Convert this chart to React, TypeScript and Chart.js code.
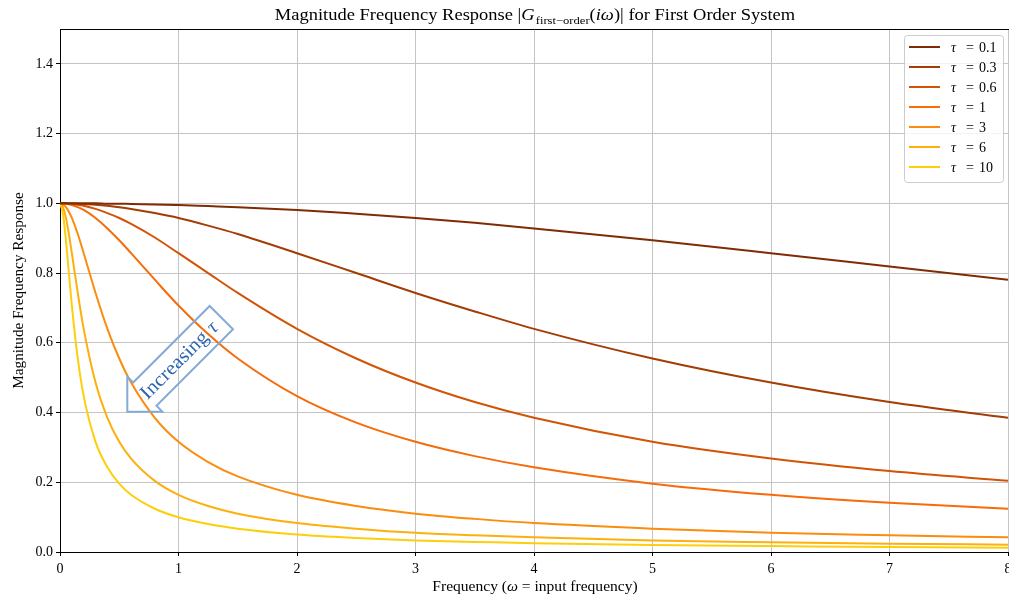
import React, { useEffect, useRef } from 'react';
import { Chart, registerables } from 'chart.js';

Chart.register(...registerables);

// ---------- data ----------
const omega = [0, 0.025, 0.05, 0.075, 0.1, 0.15, 0.2, 0.3, 0.4, 0.5, 0.6, 0.8, 1, 1.25, 1.5, 2, 2.5, 3, 3.5, 4, 5, 6, 7, 8];

const tauLabels = ['0.1', '0.3', '0.6', '1', '3', '6', '10'];

const magTau01 = [1, 1, 1, 1, 1, 1, 1, 1, 0.999, 0.999, 0.998, 0.997, 0.995, 0.992, 0.989, 0.981, 0.970, 0.958, 0.944, 0.928, 0.894, 0.857, 0.819, 0.781];
const magTau03 = [1, 1, 1, 0.9997, 0.9996, 0.999, 0.998, 0.996, 0.993, 0.989, 0.984, 0.972, 0.958, 0.936, 0.912, 0.857, 0.8, 0.743, 0.690, 0.640, 0.555, 0.486, 0.430, 0.385];
const magTau06 = [1, 0.9999, 0.9996, 0.999, 0.998, 0.996, 0.993, 0.984, 0.972, 0.958, 0.941, 0.902, 0.857, 0.8, 0.743, 0.640, 0.555, 0.486, 0.430, 0.385, 0.316, 0.268, 0.232, 0.204];
const magTau1 = [1, 0.9997, 0.999, 0.997, 0.995, 0.989, 0.981, 0.958, 0.928, 0.894, 0.857, 0.781, 0.707, 0.625, 0.555, 0.447, 0.371, 0.316, 0.275, 0.243, 0.196, 0.164, 0.141, 0.124];
const magTau3 = [1, 0.997, 0.989, 0.976, 0.958, 0.912, 0.857, 0.743, 0.640, 0.555, 0.486, 0.385, 0.316, 0.258, 0.217, 0.164, 0.132, 0.110, 0.095, 0.083, 0.067, 0.055, 0.048, 0.042];
const magTau6 = [1, 0.989, 0.958, 0.912, 0.857, 0.743, 0.640, 0.486, 0.385, 0.316, 0.268, 0.204, 0.164, 0.132, 0.110, 0.083, 0.067, 0.055, 0.048, 0.042, 0.033, 0.028, 0.024, 0.021];
const magTau10 = [1, 0.970, 0.894, 0.8, 0.707, 0.555, 0.447, 0.316, 0.243, 0.196, 0.164, 0.124, 0.0995, 0.080, 0.067, 0.050, 0.040, 0.033, 0.029, 0.025, 0.020, 0.017, 0.014, 0.0125];

const seriesValues = [magTau01, magTau03, magTau06, magTau1, magTau3, magTau6, magTau10];
const seriesColors = ['#7f2c04', '#a33d03', '#d35306', '#f76b0a', '#fb8c0d', '#fdb00c', '#fdcf0a'];

const xTicks = [0, 1, 2, 3, 4, 5, 6, 7, 8];
const yTicks = [0, 0.2, 0.4, 0.6, 0.8, 1.0, 1.2, 1.4];

// annotation arrow tip (data coords)
const arrowTip = [0.568, 0.4025];

const SERIF = '"Liberation Serif", "DejaVu Serif", serif';

type Piece = { t: string; font: string; dy?: number; dx?: number };

function drawPieces(ctx: CanvasRenderingContext2D, pieces: Piece[], x: number, y: number, align: 'center' | 'left', sx = 1) {
  let total = 0;
  for (const p of pieces) { ctx.font = p.font; total += ctx.measureText(p.t).width + (p.dx || 0); }
  ctx.save();
  ctx.translate(x, y);
  ctx.scale(sx, 1);
  let cx = align === 'center' ? -total / 2 : 0;
  ctx.textAlign = 'left';
  for (const p of pieces) {
    ctx.font = p.font;
    cx += p.dx || 0;
    ctx.fillText(p.t, cx, p.dy || 0);
    cx += ctx.measureText(p.t).width;
  }
  ctx.restore();
}

const overlayPlugin = {
  id: 'overlay',
  afterDatasetsDraw(chart: any) {
    const ctx: CanvasRenderingContext2D = chart.ctx;
    const xs = chart.scales.x, ys = chart.scales.y;
    const tx = xs.getPixelForValue(arrowTip[0]);
    const ty = ys.getPixelForValue(arrowTip[1]);
    ctx.save();
    ctx.translate(tx, ty);
    ctx.rotate(-Math.PI / 4);
    const d = 8.25;
    const L = 133;
    ctx.beginPath();
    ctx.moveTo(0, 0);
    ctx.lineTo(3 * d, -3 * d);
    ctx.lineTo(3 * d, -2 * d);
    ctx.lineTo(L, -2 * d);
    ctx.lineTo(L, 2 * d);
    ctx.lineTo(3 * d, 2 * d);
    ctx.lineTo(3 * d, 3 * d);
    ctx.closePath();
    ctx.strokeStyle = '#86aad6';
    ctx.lineWidth = 2;
    ctx.lineJoin = 'miter';
    ctx.stroke();
    ctx.fillStyle = '#2c65b0';
    ctx.textBaseline = 'middle';
    drawPieces(ctx, [
      { t: 'Increasing', font: `20px ${SERIF}` },
      { t: 'τ', font: `italic 20px ${SERIF}`, dx: 6 },
    ], 73, 1, 'center', 1.05);
    ctx.restore();
  },
  afterDraw(chart: any) {
    const ctx: CanvasRenderingContext2D = chart.ctx;
    const a = chart.chartArea;
    ctx.save();
    // top spine
    ctx.strokeStyle = '#000';
    ctx.lineWidth = 1;
    ctx.beginPath();
    ctx.moveTo(a.left, a.top + 0.5);
    ctx.lineTo(a.right + 1, a.top + 0.5);
    ctx.stroke();

    // title
    ctx.fillStyle = '#000';
    ctx.textBaseline = 'alphabetic';
    const cx = (a.left + a.right) / 2;
    const fs = 16.5;
    drawPieces(ctx, [
      { t: 'Magnitude Frequency Response |', font: `${fs}px ${SERIF}` },
      { t: 'G', font: `italic ${fs}px ${SERIF}` },
      { t: 'first\u2212order', font: `${fs * 0.68}px ${SERIF}`, dy: 3.5, dx: 1 },
      { t: '(', font: `${fs}px ${SERIF}` },
      { t: 'iω', font: `italic ${fs}px ${SERIF}` },
      { t: ')| for First Order System', font: `${fs}px ${SERIF}` },
    ], cx + 1, 20, 'center', 1.12);

    // x axis title
    drawPieces(ctx, [
      { t: 'Frequency (', font: `14px ${SERIF}` },
      { t: 'ω', font: `italic 14px ${SERIF}` },
      { t: ' = input frequency)', font: `14px ${SERIF}` },
    ], cx + 1, 591, 'center', 1.11);

    // y axis title
    ctx.save();
    ctx.translate(19, (a.top + a.bottom) / 2);
    ctx.rotate(-Math.PI / 2);
    ctx.textBaseline = 'middle';
    drawPieces(ctx, [{ t: 'Magnitude Frequency Response', font: `14px ${SERIF}` }], 0, 0, 'center', 1.09);
    ctx.restore();

    // legend
    const lw = 99, lh = 147;
    const lx = a.right - 104, ly = a.top + 6;
    ctx.beginPath();
    ctx.roundRect(lx + 0.5, ly + 0.5, lw, lh, 3);
    ctx.fillStyle = 'rgba(255,255,255,0.8)';
    ctx.fill();
    ctx.strokeStyle = '#cccccc';
    ctx.lineWidth = 1;
    ctx.stroke();
    tauLabels.forEach((lab, i) => {
      const y = ly + 12 + i * 20;
      ctx.beginPath();
      ctx.moveTo(lx + 5, y);
      ctx.lineTo(lx + 36, y);
      ctx.strokeStyle = seriesColors[i];
      ctx.lineWidth = 2;
      ctx.stroke();
      ctx.fillStyle = '#000';
      ctx.textBaseline = 'middle';
      ctx.textAlign = 'left';
      ctx.font = `italic 14px ${SERIF}`;
      ctx.fillText('τ', lx + 47, y + 1);
      ctx.font = `14px ${SERIF}`;
      ctx.fillText('=', lx + 62, y + 1);
      ctx.fillText(lab, lx + 75, y + 1);
    });
    ctx.restore();
  },
};

export default function App() {
  const ref = useRef<HTMLCanvasElement | null>(null);
  useEffect(() => {
    if (!ref.current) return;
    const datasets = seriesValues.map((vals, i) => ({
      label: `τ = ${tauLabels[i]}`,
      data: omega.map((w, j) => ({ x: w, y: vals[j] })),
      borderColor: seriesColors[i],
      backgroundColor: seriesColors[i],
      borderWidth: 2,
      pointRadius: 0,
      cubicInterpolationMode: 'monotone' as const,
      fill: false,
    }));
    const chart = new Chart(ref.current, {
      type: 'line',
      data: { datasets },
      options: {
        animation: false,
        responsive: false,
        devicePixelRatio: 1,
        layout: { padding: { top: 29, left: 0, right: 1, bottom: 0 } },
        plugins: { legend: { display: false }, title: { display: false }, tooltip: { enabled: false } },
        scales: {
          x: {
            type: 'linear',
            min: 0,
            max: 8,
            afterBuildTicks: (s: any) => { s.ticks = xTicks.map((v) => ({ value: v })); },
            afterFit: (s: any) => { s.height = 45; s.paddingLeft = 0; s.paddingRight = 0; },
            ticks: {
              color: '#000',
              font: { family: SERIF, size: 14 },
              padding: 5,
              maxRotation: 0,
              callback: (v: any) => String(v),
            },
            grid: { color: '#c4c4c4', lineWidth: 1, tickColor: '#000', tickLength: 4, drawTicks: true },
            border: { color: '#000', width: 1 },
          },
          y: {
            type: 'linear',
            min: 0,
            max: 1.5,
            afterBuildTicks: (s: any) => { s.ticks = yTicks.map((v) => ({ value: v })); },
            afterFit: (s: any) => { s.width = 60; s.paddingTop = 0; s.paddingBottom = 0; },
            ticks: {
              color: '#000',
              font: { family: SERIF, size: 14 },
              padding: 3,
              callback: (v: any) => Number(v).toFixed(1),
            },
            grid: { color: '#c4c4c4', lineWidth: 1, tickColor: '#000', tickLength: 4, drawTicks: true },
            border: { color: '#000', width: 1 },
          },
        },
      },
      plugins: [overlayPlugin],
    } as any);
    return () => chart.destroy();
  }, []);
  return (
    <div style={{ position: 'fixed', left: 0, top: 0, width: 1009, height: 597, overflow: 'hidden', background: '#fff' }}>
      <canvas ref={ref} width={1009} height={597} style={{ display: 'block', width: 1009, height: 597 }} />
    </div>
  );
}
